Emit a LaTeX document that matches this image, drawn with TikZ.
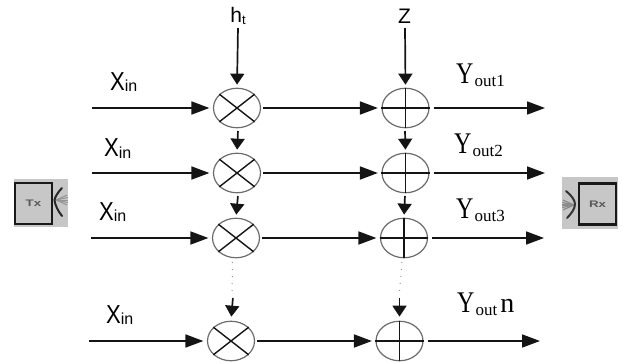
\documentclass[tikz,border=0pt]{standalone}
\usepackage{fontspec}
\usepackage{graphicx}
\setmainfont{Liberation Serif}
\newfontfamily\lsans{Liberation Sans}
\usetikzlibrary{arrows.meta,shapes.geometric}
\definecolor{ringc}{gray}{0.42}
\definecolor{wirec}{gray}{0.08}
\definecolor{panelc}{gray}{0.78}
\newcommand\xlabtext{\scalebox{0.85}[1]{\fontsize{26}{26}\selectfont X}\raisebox{-1.5pt}{\fontsize{16}{16}\selectfont in}}
\newcommand\ylabtext[1]{\scalebox{0.8}[1]{\fontsize{30}{30}\selectfont Y}\hspace{1pt}\raisebox{-3pt}{\fontsize{17}{17}\selectfont #1}}
\tikzset{
  ring/.style={ellipse,draw=ringc,line width=1.2pt,minimum width=47pt,minimum height=39.5pt,inner sep=0pt},
  wire/.style={draw=wirec,line width=1.7pt,-{Triangle[length=18pt,width=13pt]},shorten >=3.5pt,shorten <=2pt},
  vwire/.style={draw=wirec,line width=1.7pt,-{Triangle[length=11pt,width=14pt]},shorten >=3pt,shorten <=1pt},
  ringmark/.style={draw=wirec,line width=1.4pt},
  xlab/.style={font=\lsans,inner sep=0pt,anchor=base west},
  ylab/.style={inner sep=0pt,anchor=base west},
  toplab/.style={font=\lsans\fontsize{21}{21}\selectfont,inner sep=0pt,anchor=base},
  panel/.style={fill=panelc,draw=none},
  devbox/.style={draw=black!90,fill=panelc,line width=2.1pt,minimum width=37pt,minimum height=41pt,inner sep=0pt,font=\lsans\bfseries\fontsize{9.5}{9.5}\selectfont,text=black!65},
  trail/.style={draw=wirec,line width=1pt,dash pattern=on 1pt off 6pt,opacity=.45}
}
\begin{document}
\begin{tikzpicture}[x=1pt,y=-1pt]
\useasboundingbox (0,0) rectangle (622,362);
% Rows
\foreach \n/\mx/\ax/\yy/\sx/\ex in {1/237/405.5/108/92/545,2/237/405.5/173/92/545,3/236/404/238/91/544,4/231/399.5/341/89/540}{
  \node[ring] (m\n) at (\mx,\yy) {};
  \node[ring] (a\n) at (\ax,\yy) {};
  \draw[ringmark] (m\n.38) -- (m\n.218) (m\n.142) -- (m\n.322);
  \draw[ringmark] (a\n.north) -- (a\n.south) (a\n.west) -- (a\n.east);
  \coordinate (in\n) at (\sx,\yy);
  \coordinate (out\n) at (\ex,\yy);
  \draw[wire,shorten <=0pt] (in\n) -- (m\n);
  \draw[wire] (m\n) -- (a\n);
  \draw[wire,shorten <=4pt,shorten >=0pt] (a\n) -- (out\n);
}
% Top inputs
\node[toplab] (ht) at (238,22.5) {h\raisebox{-2pt}{\fontsize{13}{13}\selectfont t}};
\node[toplab] (zz) at (404.5,23) {Z};
\coordinate (htend) at (238,27);
\coordinate (zzend) at (405,27);
\draw[vwire] (htend) -- (m1.north);
\draw[vwire] (zzend) -- (a1.north);
% Between rows
\coordinate (m1b) at (238,130);
\coordinate (a1b) at (405,130);
\coordinate (m2b) at (238,195);
\coordinate (a2b) at (405,195);
\draw[vwire] (m1b) -- (m2.north);
\draw[vwire] (a1b) -- (a2.north);
\draw[vwire] (m2b) -- (m3.north);
\draw[vwire] (a2b) -- (a3.north);
% Dotted trails and last arrows
\coordinate (mtop) at (233,297);
\coordinate (atop) at (399.5,297);
\draw[trail] (232.5,262) -- (232,292);
\draw[trail] (402,262) -- (399.5,292);
\draw[vwire,shorten >=4pt] (mtop) -- (m4.north);
\draw[vwire,shorten >=4pt] (atop) -- (a4.north);
% Labels
\node[xlab] (x1) at (110,90) {\xlabtext};
\node[xlab] (x2) at (104,156.5) {\xlabtext};
\node[xlab] (x3) at (99,220) {\xlabtext};
\node[xlab] (x4) at (106,323) {\xlabtext};
\node[ylab] (y1) at (456,83) {\ylabtext{out1}};
\node[ylab] (y2) at (454,153) {\ylabtext{out2}};
\node[ylab] (y3) at (456,218) {\ylabtext{out3}};
\node[ylab] (y4) at (457,312) {\ylabtext{out}\hspace{3pt}\fontsize{28}{28}\selectfont n};
% Tx
\fill[panel] (14,179) rectangle (68,227);
\foreach \a in {-24,-12,0,12,24}{\draw[black!42,line width=1pt] (56,200) -- ++(\a:12);}
\draw[black!85,line width=2pt,line cap=round] (62,188) .. controls (58,192) and (55,197) .. (54.5,200) .. controls (55,205) and (58,211) .. (62,216);
\node[devbox,minimum width=37pt] (tx) at (33.5,203.5) {\scalebox{1.4}[1]{Tx}};
% Rx
\fill[panel] (562,177) rectangle (618,229);
\foreach \a in {-24,-12,0,12,24}{\draw[black!45,line width=1.2pt] (574,205) -- ++(180+\a:12);}
\draw[black!80,line width=2pt,line cap=round] (566,191) .. controls (571,195) and (575,200) .. (575,204) .. controls (575,209) and (571,214) .. (567,218);
\node[devbox,minimum width=37pt] (rx) at (597.5,204) {\scalebox{1.4}[1]{Rx}};
\end{tikzpicture}
\end{document}
